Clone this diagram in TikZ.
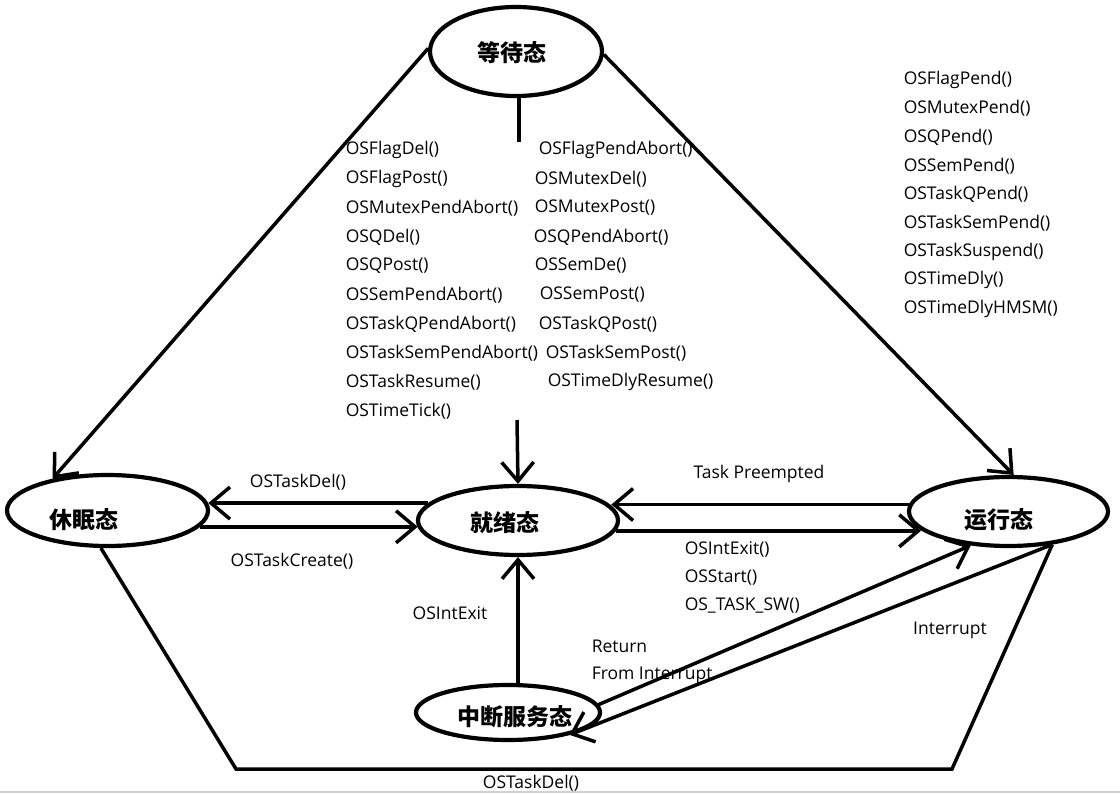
\documentclass[tikz,border=0pt]{standalone}
\usepackage{fontspec}
\setmainfont{Open Sans}
\newfontfamily\cjk{Noto Sans CJK SC}
\usetikzlibrary{shapes.geometric,arrows.meta}

\begin{document}
\begin{tikzpicture}[x=1pt,y=-1pt,line width=3.5pt,
  st/.style n args={2}{ellipse,draw,line width=4.2pt,minimum width=#1,minimum height=#2,inner sep=0pt},
  sname/.style={font=\cjk\bfseries\fontsize{23}{23}\selectfont,inner sep=0pt},
  ar/.style={-{Straight Barb[length=19pt,width=32pt]}},
  fn/.style={font=\fontsize{17.5}{18}\selectfont,inner sep=0pt},
  fnl/.style={fn,anchor=west}]
\useasboundingbox (0,0) rectangle (1120,794);
\fill[white] (0,0) rectangle (1120,794);
\draw[black!18,line width=1.5pt] (0,792) -- (1120,792);

% states
\node[st={172pt}{89pt}] (wait) at (516,51.5) {};
\node[sname] (waittx) at (512,53) {等待态};
\node[st={201pt}{71pt}] (sleep) at (107.5,510.5) {};
\node[sname] (sleeptx) at (84,520) {休眠态};
\node[st={200pt}{69pt}] (ready) at (518,520.5) {};
\node[sname] (readytx) at (505,523) {就绪态};
\node[st={199pt}{69pt}] (run) at (1008.5,511.5) {};
\node[sname] (runtx) at (999,520) {运行态};
\node[st={184pt}{55pt}] (isr) at (508,712.5) {};
\node[sname] (isrtx) at (515,717) {中断服务态};

% transitions
\draw[ar] (wait.178) -- (sleep.150);
\draw[ar] (wait.-2) -- (run.82);
\coordinate (wst) at (519,142);
\coordinate (rst) at (517,420);
\draw (wait.south -| wst) -- (wst);
\draw[ar] (rst) -- (ready.north);
\draw[ar] (ready.169) -- (sleep.4 |- ready.169);
\draw[ar] (sleep.-10) -- (ready.184 |- sleep.-10);
\draw[ar] (run.176) -- (ready.9 |- run.176);
\draw[ar] (ready.-6) -- (run.192 |- ready.-6);
\draw[ar] (isr.north -| ready.south) -- (ready.south);
\draw[ar] (isr.5) -- (run.222);
\draw[ar] (run.-37) -- (isr.-20);
\coordinate (bl) at (236,769);
\coordinate (br) at (952,769);
\draw (sleep.-100) -- (bl) -- (br) -- (run.-37);

% labels
\node[fn] (del1) at (298,482) {OSTaskDel()};
\node[fn] (create) at (292,561) {OSTaskCreate()};
\node[fn] (preempt) at (759,474) {Task Preempted};
\foreach \t [count=\i] in {OSIntExit(),OSStart(),OS\_TASK\_SW()} {
   \node[fnl] (sw\i) at (683,521.5+28*\i) {\t};
}
\node[fn] (isrexit) at (450,613) {OSIntExit};
\node[fnl] (ret1) at (590,646) {Return};
\node[fnl] (ret2) at (590,675) {From Interrupt};
\node[fn] (intr) at (950,630) {Interrupt};
\node[fn] (del2) at (531,783) {OSTaskDel()};
\foreach \t [count=\i] in %
{OSFlagDel(),OSFlagPost(),OSMutexPendAbort(),OSQDel(),OSQPost(),OSSemPendAbort(),OSTaskQPendAbort(),OSTaskSemPendAbort(),OSTaskResume(),OSTimeTick()} {
   \node[fnl] (wl\i) at (344,121+29*\i) {\t};
}
\foreach \x/\t [count=\i] in %
{537/OSFlagPendAbort(),533/OSMutexDel(),533/OSMutexPost(),532/OSQPendAbort(),533/OSSemDe(),538/OSSemPost(),537/OSTaskQPost(),544/OSTaskSemPost(),546/OSTimeDlyResume()} {
   \node[fnl] (wr\i) at (\x,121+29*\i) {\t};
}
\foreach \t [count=\i] in %
{OSFlagPend(),OSMutexPend(),OSQPend(),OSSemPend(),OSTaskQPend(),OSTaskSemPend(),OSTaskSuspend(),OSTimeDly(),OSTimeDlyHMSM()} {
   \node[fnl] (rp\i) at (902,51.5+28.6*\i) {\t};
}
\end{tikzpicture}
\end{document}
